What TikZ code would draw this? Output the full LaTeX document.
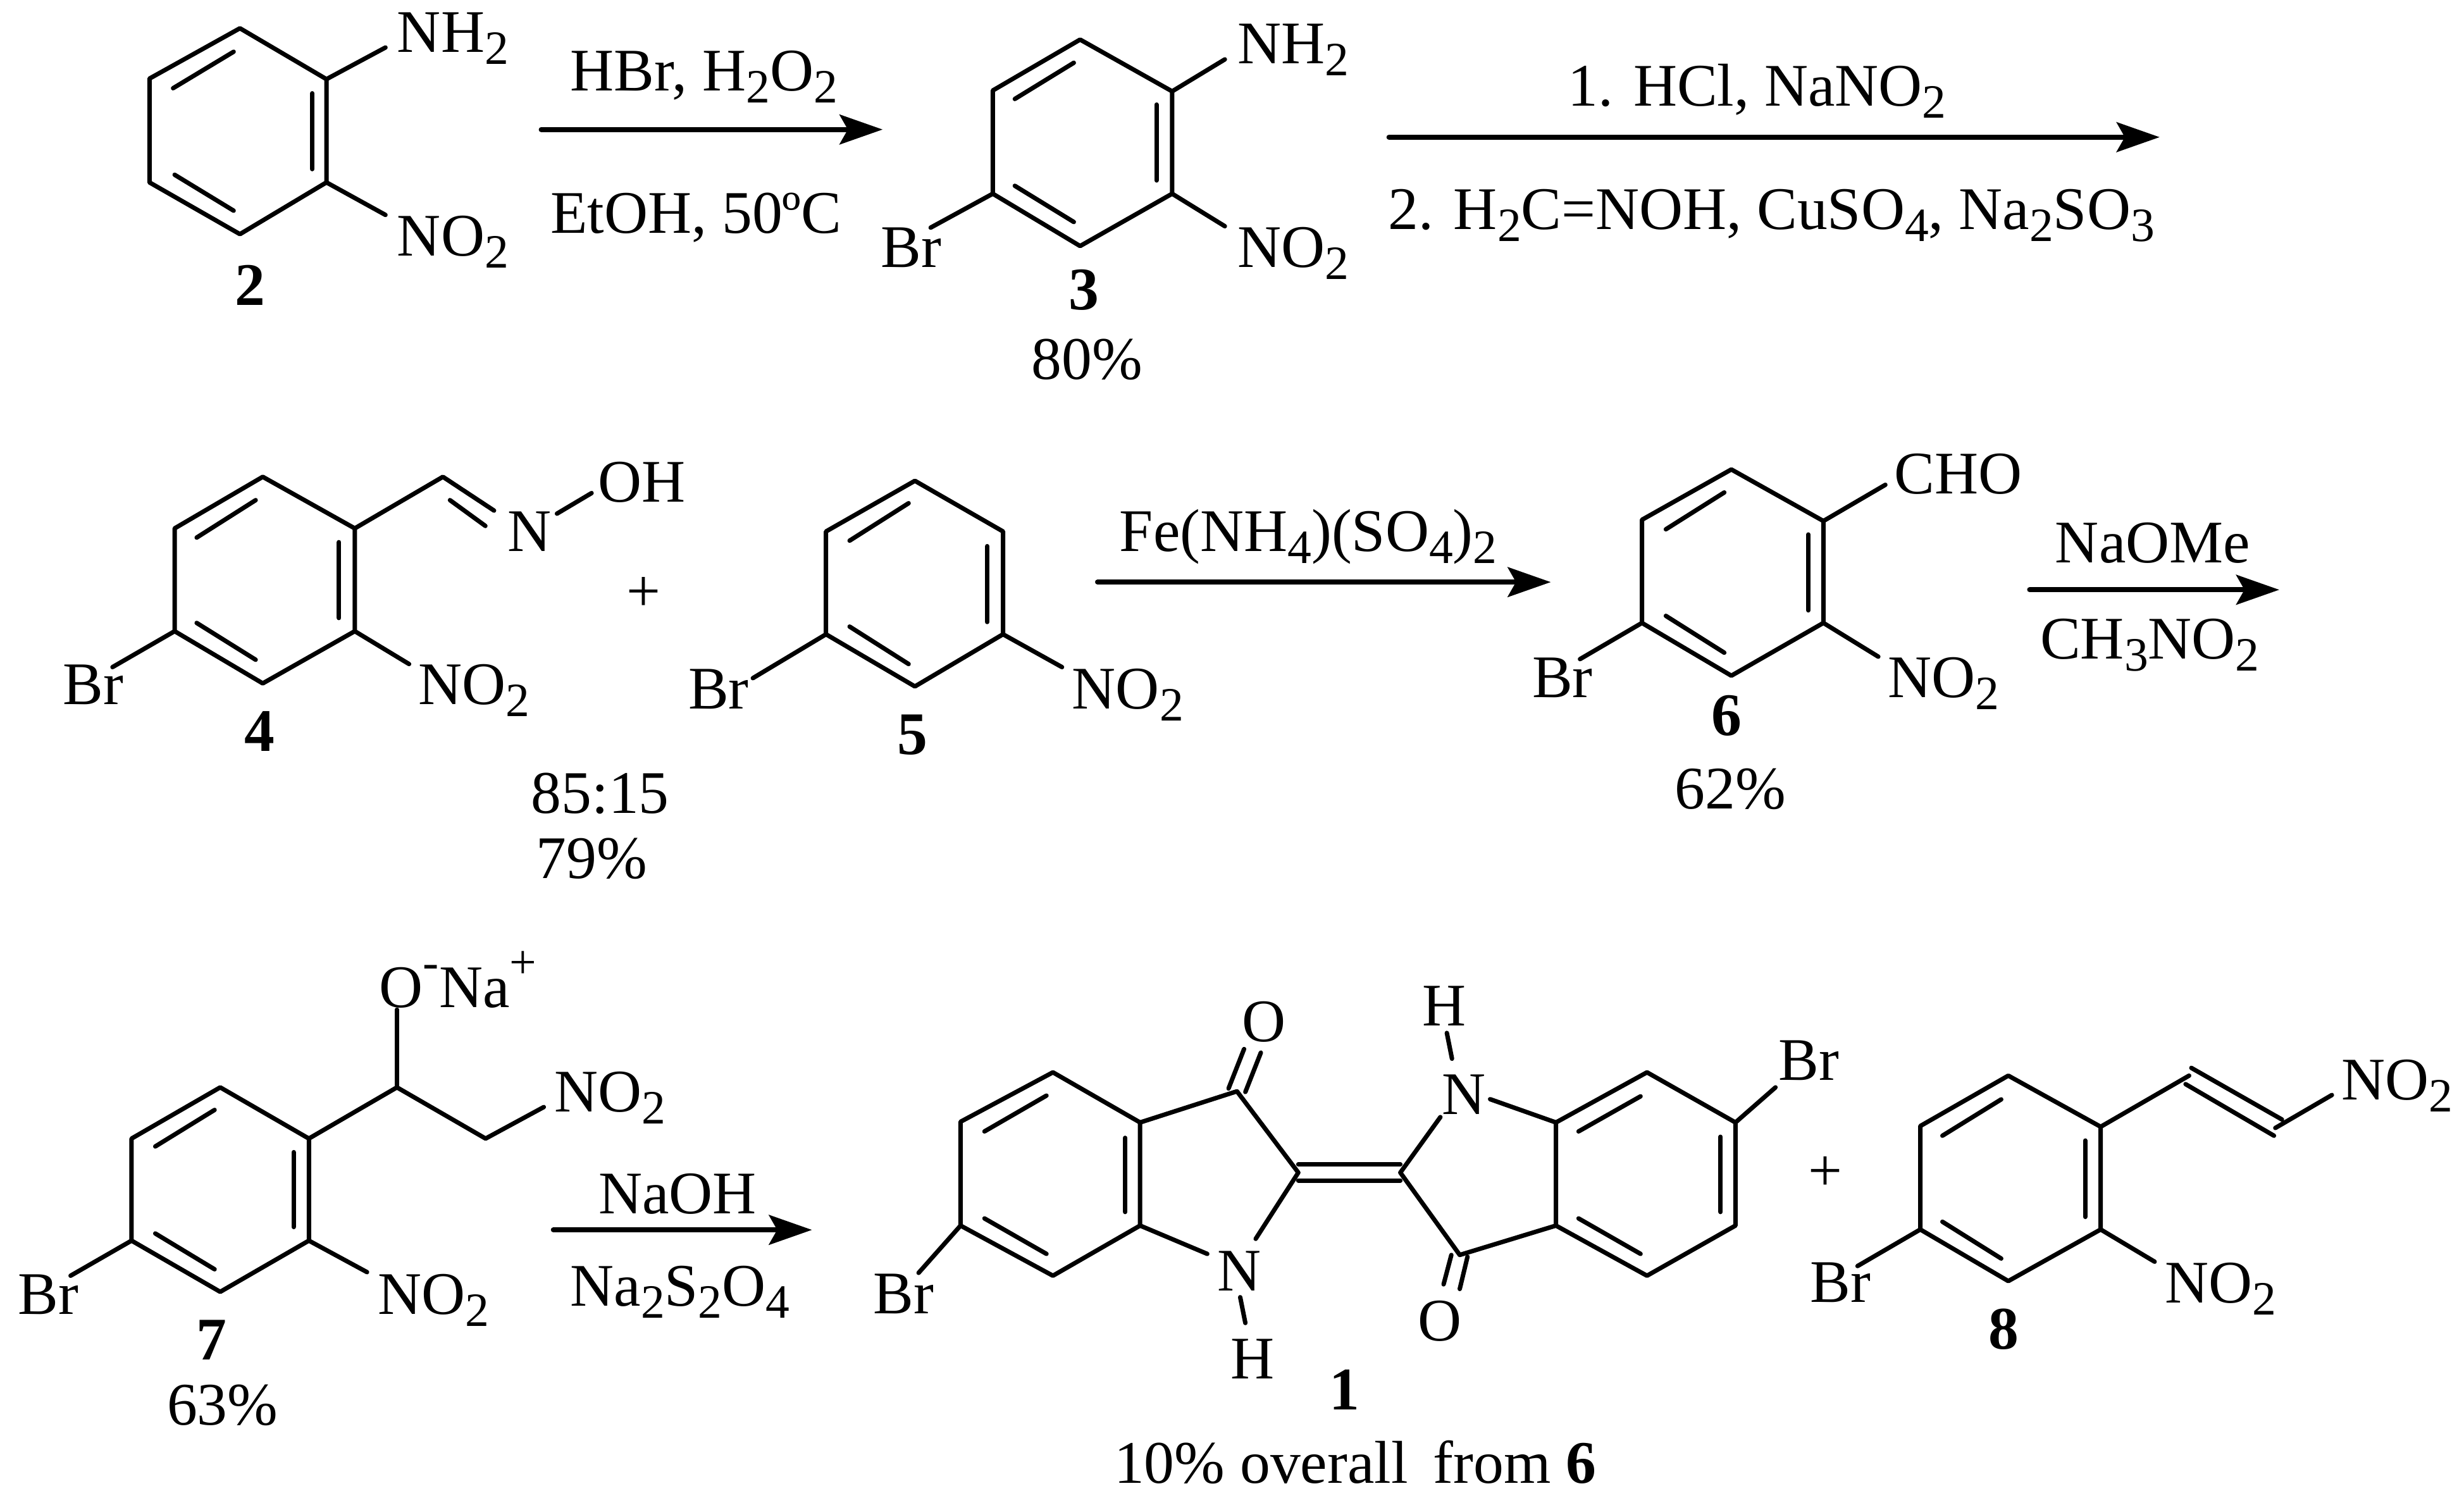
\documentclass[tikz,border=0pt]{standalone}
\usepackage{fontspec}
\setmainfont{Liberation Serif}
\usetikzlibrary{arrows.meta}
\newcommand\dn[1]{\raisebox{-.19cm}{\fontsize{21.5pt}{20pt}\selectfont #1}}
\newcommand\up[1]{\raisebox{.46cm}{\fontsize{21.5pt}{20pt}\selectfont #1}}
\newcommand\ring[1]{%
  \draw[bond] (#1t)--(#1ur)--(#1lr)--(#1b)--(#1ll)--(#1ul)--cycle;
  \draw[bond] (#11)--(#12);
  \draw[bond] (#13)--(#14);
  \draw[bond] (#15)--(#16);}
\newcommand\pts[1]{\foreach \n/\px/\py in {#1} {\coordinate (\n) at (\px,\py);}}
\tikzset{
  bond/.style={line width=.07cm,line cap=round,line join=round,black},
  rxn/.style={line width=.08cm,line cap=round,black,-{Stealth[length=.68cm,width=.47cm,inset=.13cm]}},
  lab/.style={inner sep=0pt,outer sep=0pt,anchor=base west,font=\fontsize{27.2pt}{30pt}\selectfont,text=black},
  cen/.style={inner sep=0pt,outer sep=0pt,anchor=base,font=\fontsize{27.2pt}{30pt}\selectfont,text=black},
  zA/.style={shift={(0cm,0cm)},x=.012436cm,y=-.004464cm},
  zB/.style={shift={(19.5cm,0cm)},x=.012404cm,y=-.004464cm},
  zC/.style={shift={(0cm,-6.8cm)},x=.012436cm,y=-.004847cm},
  zD/.style={shift={(17cm,-6.8cm)},x=.013999cm,y=-.004847cm},
  zE/.style={shift={(0cm,-14.8cm)},x=.008929cm,y=-.005663cm},
  zF/.style={shift={(13.5cm,-14.8cm)},x=.010204cm,y=-.005663cm},
  zG/.style={shift={(28cm,-16cm)},x=.006983cm,y=-.003827cm},
}
\begin{document}
\begin{tikzpicture}
\path[use as bounding box,fill=white] (0,0) rectangle (38.95,-23.68);
% ---- row 1
\begin{scope}[zA]
\pts{at/305/100,aur/415/280,alr/415/645,ab/305/828,all/190/645,aul/190/278,
 a1/220/312,a2/297/183,a3/397/330,a4/397/598,a5/222/618,a6/297/745,
 aN/490/168,aO/490/760,
 bt/1373/140,bur/1490/323,blr/1490/685,bb/1373/870,bll/1262/685,bul/1262/320,
 b1/1290/350,b2/1365/222,b3/1470/370,b4/1470/638,b5/1290/657,b6/1365/785,
 bN/1557/210,bO/1557/800,bBr/1183/805,
 r1s/688/458,r1e/1122/458}
\ring{a}\ring{b}
\draw[bond] (aur)--(aN); \draw[bond] (alr)--(aO);
\draw[bond] (bur)--(bN); \draw[bond] (blr)--(bO); \draw[bond] (bll)--(bBr);
\draw[rxn] (r1s)--(r1e);
\node[lab] (tA1) at (505,185) {NH\dn{2}};
\node[lab] (tA2) at (505,905) {NO\dn{2}};
\node[cen] (tA3) at (318,1080) {\textbf{2}};
\node[lab] (tA4) at (725,322) {HBr, H\dn{2}O\dn{2}};
\node[lab] (tA5) at (700,825) {EtOH, 50ºC};
\node[lab] (tA6) at (1120,945) {Br};
\node[cen] (tA7) at (1378,1095) {\textbf{3}};
\node[cen] (tA8) at (1382,1340) {80\%};
\end{scope}
\begin{scope}[zB]
\pts{r2s/198/485,r2e/1180/485}
\draw[rxn] (r2s)--(r2e);
\node[lab] (tB1) at (5,225) {NH\dn{2}};
\node[lab] (tB2) at (5,945) {NO\dn{2}};
\node[lab] (tB3) at (426,375) {1. HCl, NaNO\dn{2}};
\node[lab] (tB4) at (197,810) {2. H\dn{2}C=NOH, CuSO\dn{4}, Na\dn{2}SO\dn{3}};
\end{scope}
% ---- row 2
\begin{scope}[zC]
\pts{ct/334/152,cur/451/320,clr/451/655,cb/334/825,cll/222/655,cul/222/320,
 c1/250/350,c2/325/228,c3/431/365,c4/431/612,c5/250/628,c6/325/748,
 cCH/563/152,cNd/628/262,cI1/572/228,cI2/617/312,cNo/708/272,cOh/752/205,
 cO/520/762,cBr/143/772,
 dt/1163/165,dur/1275/330,dlr/1275/665,db/1163/835,dll/1050/665,dul/1050/330,
 d1/1080/360,d2/1155/238,d3/1255/378,d4/1255/625,d5/1080/640,d6/1155/762,
 dO/1350/772,dBr/957/808}
\ring{c}\ring{d}
\draw[bond] (cur)--(cCH)--(cNd); \draw[bond] (cI1)--(cI2); \draw[bond] (cNo)--(cOh);
\draw[bond] (clr)--(cO); \draw[bond] (cll)--(cBr);
\draw[bond] (dlr)--(dO); \draw[bond] (dll)--(dBr);
\node[lab] (tC1) at (645,395) {N};
\node[lab] (tC2) at (760,233) {OH};
\node[lab] (tC3) at (532,893) {NO\dn{2}};
\node[lab] (tC4) at (80,893) {Br};
\node[cen] (tC5) at (330,1045) {\textbf{4}};
\node[cen] (tC6) at (818,591) {+};
\node[cen] (tC7) at (763,1247) {85:15};
\node[cen] (tC8) at (752,1460) {79\%};
\node[lab] (tC9) at (1363,908) {NO\dn{2}};
\node[lab] (tC10) at (875,908) {Br};
\node[cen] (tC11) at (1160,1057) {\textbf{5}};
\end{scope}
\begin{scope}[zD]
\pts{et/741/128,eur/845/296,elr/845/628,eb/741/800,ell/640/628,eul/640/292,
 e1/667/323,e2/733/203,e3/828/340,e4/828/587,e5/667/605,e6/733/725,
 eC/915/178,eO/907/738,eBr/570/746,
 r3s/25/495,r3e/537/495,r4s/1078/520,r4e/1360/520}
\ring{e}
\draw[bond] (eur)--(eC); \draw[bond] (elr)--(eO); \draw[bond] (ell)--(eBr);
\draw[rxn] (r3s)--(r3e); \draw[rxn] (r4s)--(r4e);
\node[lab] (tD1) at (50,395) {Fe(NH\dn{4})(SO\dn{4})\dn{2}};
\node[lab] (tD2) at (925,207) {CHO};
\node[lab] (tD3) at (918,870) {NO\dn{2}};
\node[lab] (tD4) at (516,870) {Br};
\node[cen] (tD5) at (736,995) {\textbf{6}};
\node[cen] (tD6) at (740,1233) {62\%};
\node[lab] (tD7) at (1107,432) {NaOMe};
\node[lab] (tD8) at (1090,745) {CH\dn{3}NO\dn{2}};
\end{scope}
% ---- row 3
\begin{scope}[zE]
\pts{ft/390/422,fur/547/565,flr/547/850,fb/390/993,fll/233/850,ful/233/565,
 f1/275/587,f2/380/485,f3/520/603,f4/520/812,f5/275/830,f6/380/930,
 fC/703/422,fCH/860/565,fN/963/477,fOm/703/205,fO/650/938,fBr/125/948,
 r5s/980/820,r5e/1438/820}
\ring{f}
\draw[bond] (fur)--(fC)--(fCH)--(fN); \draw[bond] (fC)--(fOm);
\draw[bond] (flr)--(fO); \draw[bond] (fll)--(fBr);
\draw[rxn] (r5s)--(r5e);
\node[lab] (tE1) at (672,198) {O\up{-}Na\up{+}};
\node[lab] (tE2) at (982,490) {NO\dn{2}};
\node[lab] (tE3) at (669,1055) {NO\dn{2}};
\node[lab] (tE4) at (32,1055) {Br};
\node[cen] (tE5) at (375,1183) {\textbf{7}};
\node[cen] (tE6) at (394,1365) {63\%};
\node[lab] (tE7) at (1060,775) {NaOH};
\node[lab] (tE8) at (1010,1033) {Na\dn{2}S\dn{2}O\dn{4}};
\end{scope}
\begin{scope}[zF]
\pts{gt/308/380,gur/443/520,glr/443/808,gb/308/948,gll/165/808,gul/165/518,
 g1/202/545,g2/298/445,g3/420/563,g4/420/770,g5/202/788,g6/298/887,
 gC3/593/433,gC2/688/660,gN1/622/845,gN2/547/887,gH1/598/1008,gH2/606/1080,
 gOa1/580/425,gOa2/604/315,gOb1/606/435,gOb2/630/325,gBr/100/940,
 dbA1/688/637,dbA2/846/637,dbB1/688/682,dbB2/846/682,
 hCp/846/660,hN1/908/505,hN2/985/455,hH1/918/270,hH2/926/342,hC3/938/890,
 hOa1/913/972,hOa2/925/890,hOb1/938/985,hOb2/950/895,
 ht/1228/380,hur/1365/520,hlr/1365/808,hb/1228/948,hll/1087/808,hul/1087/520,
 h1/1122/545,h2/1218/447,h3/1342/560,h4/1342/770,h5/1122/788,h6/1218/887,
 hBr/1427/422}
\ring{g}
\draw[bond] (hul)--(ht)--(hur)--(hlr)--(hb)--(hll)--cycle;
\draw[bond] (h1)--(h2); \draw[bond] (h3)--(h4); \draw[bond] (h5)--(h6);
\draw[bond] (gur)--(gC3)--(gC2)--(gN1); \draw[bond] (glr)--(gN2);
\draw[bond] (gH1)--(gH2); \draw[bond] (gOa1)--(gOa2); \draw[bond] (gOb1)--(gOb2);
\draw[bond] (gll)--(gBr);
\draw[bond] (dbA1)--(dbA2); \draw[bond] (dbB1)--(dbB2);
\draw[bond] (hN1)--(hCp)--(hC3)--(hll); \draw[bond] (hN2)--(hul);
\draw[bond] (hH1)--(hH2); \draw[bond] (hOa1)--(hOa2); \draw[bond] (hOb1)--(hOb2);
\draw[bond] (hur)--(hBr);
\node[lab] (tF1) at (563,990) {N};
\node[lab] (tF2) at (583,1235) {H};
\node[lab] (tF3) at (601,295) {O};
\node[lab] (tF4) at (911,497) {N};
\node[lab] (tF5) at (880,250) {H};
\node[lab] (tF6) at (873,1130) {O};
\node[lab] (tF7) at (1432,402) {Br};
\node[lab] (tF8) at (30,1053) {Br};
\node[cen] (tF9) at (760,1323) {\textbf{1}};
\node[cen] (tF10) at (776,1527) {10\% overall\, from \textbf{6}};
\end{scope}
\begin{scope}[zG]
\pts{it/536/262,iur/745/473,ilr/745/897,ib/536/1110,ill/337/897,iul/337/470,
 i1/387/510,i2/520/360,i3/710/530,i4/710/845,i5/387/865,i6/520/1017,
 iCa/945/262,iDa1/937/297,iDa2/1137/510,iDb1/950/230,iDb2/1155/443,iE1/1140/478,iE2/1268/342,
 iO/867/1030,iBr/195/1048}
\ring{i}
\draw[bond] (iur)--(iCa); \draw[bond] (iDa1)--(iDa2); \draw[bond] (iDb1)--(iDb2); \draw[bond] (iE1)--(iE2);
\draw[bond] (ilr)--(iO); \draw[bond] (ill)--(iBr);
\node[lab] (tG1) at (1290,362) {NO\dn{2}};
\node[lab] (tG2) at (890,1200) {NO\dn{2}};
\node[lab] (tG3) at (88,1198) {Br};
\node[cen] (tG4) at (525,1390) {\textbf{8}};
\node[cen] (tG5) at (122,738) {+};
\end{scope}
\end{tikzpicture}
\end{document}
